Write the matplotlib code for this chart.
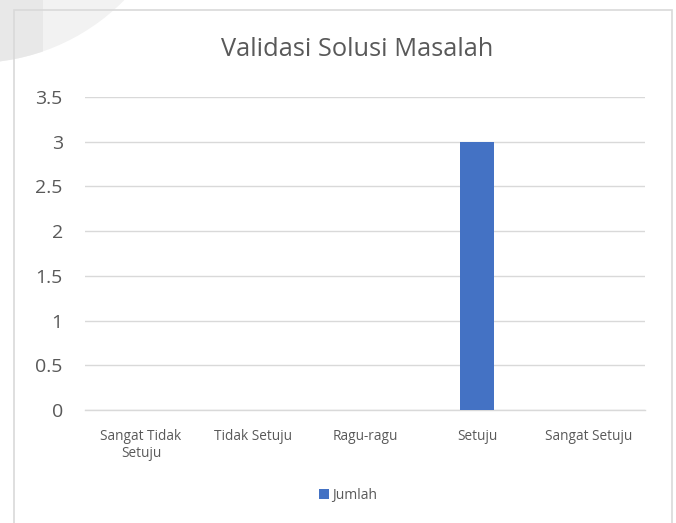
import matplotlib
matplotlib.use("Agg")
import matplotlib.pyplot as plt
from matplotlib.patches import Ellipse, Rectangle

categories = ["Sangat Tidak\nSetuju", "Tidak Setuju", "Ragu-ragu", "Setuju", "Sangat Setuju"]
jumlah = [0, 0, 0, 3, 0]
yticks = [0, 0.5, 1, 1.5, 2, 2.5, 3, 3.5]
ytick_labels = ["0", "0.5", "1", "1.5", "2", "2.5", "3", "3.5"]

plt.rcParams['font.family'] = ['Open Sans', 'DejaVu Sans']

W, H = 676, 523
fig = plt.figure(figsize=(W / 100, H / 100), dpi=100)

# faint watermark shape in the corner and the chart frame
blob = Ellipse((-26 / W, 1 + 148 / H), 422 / W, 422 / H, transform=fig.transFigure,
               facecolor='#f2f2f2', edgecolor='none', zorder=0)
fig.patches.append(blob)
strip = Rectangle((0, 0), 43 / W, 1, transform=fig.transFigure,
                  facecolor='#e8e8e8', edgecolor='none', zorder=0.5)
strip.set_clip_path(blob)
fig.patches.append(strip)
fig.patches.append(Rectangle((14 / W, -0.05), (672 - 14) / W, 1.05 - 10 / H,
                             transform=fig.transFigure, facecolor='none',
                             edgecolor='#d9d9d9', linewidth=1.2, zorder=1))

ax = fig.add_axes([85 / W, 1 - 410 / H, (645 - 85) / W, (410 - 97) / H])
ax.patch.set_alpha(0)

x = range(len(categories))
ax.bar(x, jumlah, width=0.31, color='#4472c4', label='Jumlah', zorder=3)

ax.set_xlim(-0.5, len(categories) - 0.5)
ax.set_ylim(0, 3.5)
ax.set_yticks(yticks)
ax.set_yticklabels(ytick_labels)
ax.set_xticks(list(x))
ax.set_xticklabels(categories, fontsize=9.8, linespacing=1.15)
ax.tick_params(axis='y', length=0, pad=16, labelsize=14, labelcolor='#595959')
ax.tick_params(axis='x', length=0, pad=14, labelcolor='#595959')

ax.grid(axis='y', color='#d9d9d9', linewidth=1.0, zorder=0)
for s in ['top', 'right', 'left']:
    ax.spines[s].set_visible(False)
ax.spines['bottom'].set_color('#d9d9d9')
ax.spines['bottom'].set_linewidth(1.0)

fig.text(357 / W, 1 - 50 / H, "Validasi Solusi Masalah", ha='center', va='center',
         fontsize=18.3, color='#595959')

ax.legend(loc='center', bbox_to_anchor=(348 / W, 1 - 495 / H), bbox_transform=fig.transFigure,
          frameon=False, fontsize=10, handlelength=0.7, handleheight=0.7,
          handletextpad=0.2, labelcolor='#595959')

fig.savefig("out.png", dpi=100)
